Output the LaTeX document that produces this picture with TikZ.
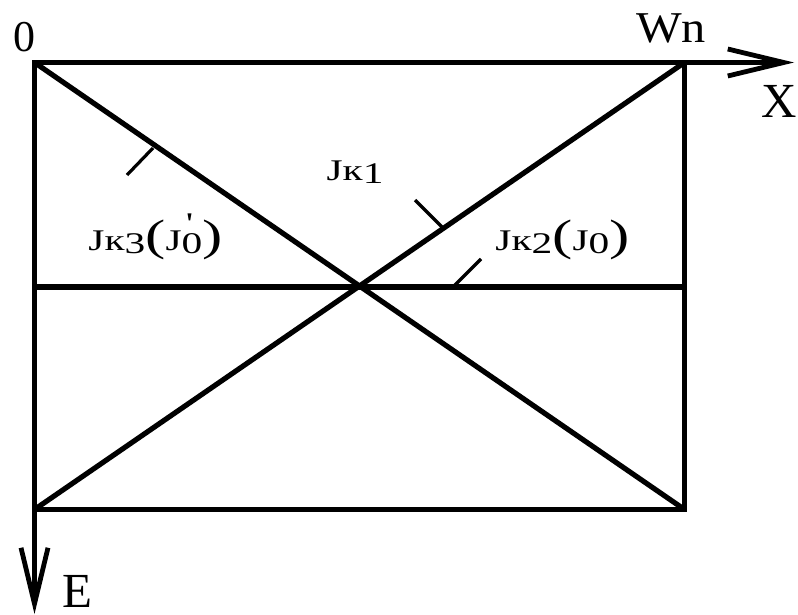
\documentclass[tikz,border=0pt]{standalone}
\usepackage{fontspec}
\setmainfont{Liberation Serif}
\usepackage{graphicx}
\usetikzlibrary{arrows.meta}
\newcommand\lowd[1]{\raisebox{-3pt}{#1}}
\newcommand\bigpar[1]{{\fontsize{44}{44}\selectfont #1}}
\newcommand\stretchx[1]{\scalebox{1.38}[1]{#1}}
\begin{document}
\begin{tikzpicture}[x=1pt,y=-1pt,
  frame/.style={line width=5.2pt, line join=miter},
  axisarrow/.style={line width=5.2pt, -{Straight Barb[length=56pt,width=27pt,line width=4.8pt]}},
  tickline/.style={line width=3.2pt},
  biglab/.style={font=\fontsize{44}{44}\selectfont, inner sep=0pt, anchor=base},
  axlab/.style={font=\fontsize{49}{49}\selectfont, inner sep=0pt, anchor=base},
  lab/.style={font=\fontsize{30}{30}\selectfont, inner sep=0pt, anchor=base}]
\useasboundingbox (0,0) rectangle (798,615);
% corners
\coordinate (TL) at (34.5,62.5);
\coordinate (TR) at (684.5,62.5);
\coordinate (BR) at (684.5,509.5);
\coordinate (BL) at (34.5,509.5);
\coordinate (ML) at (34.5,287);
\coordinate (MR) at (684.5,287);
\coordinate (Xend) at (794,62.5);
\coordinate (Eend) at (34.5,614);
% frame
\draw[frame] (TL) -- (TR) -- (BR) -- (BL) -- cycle;
\draw[frame] (ML) -- (MR);
\draw[frame] (TL) -- (BR);
\draw[frame] (BL) -- (TR);
% axes
\draw[axisarrow] (TR) -- (Xend);
\draw[axisarrow] (BL) -- (Eend);
% ticks
\coordinate (t3a) at (153,148);
\coordinate (t3b) at (127,175);
\coordinate (t1a) at (442,227);
\coordinate (t1b) at (415,200);
\coordinate (t2a) at (453,287);
\coordinate (t2b) at (481,259);
\draw[tickline] (t3a) -- (t3b);
\draw[tickline] (t1a) -- (t1b);
\draw[tickline] (t2a) -- (t2b);
% labels
\node[biglab] (zero) at (24,52) {0};
\node[biglab] (wn) at (671,43) {\scalebox{1.1}[1]{Wn}};
\node[axlab] (xl) at (779.5,118) {X};
\node[axlab] (el) at (77.5,607) {E};
\node[lab] (k1) at (355,180) {\stretchx{Jк\lowd{1}}};
\node[lab] (k3) at (155.5,250) {\stretchx{Jк\lowd{3}\bigpar{(}J\rlap{\hspace{3pt}\raisebox{17pt}{\textquotesingle}}\lowd{0}\bigpar{)}}};
\node[lab] (k2) at (562.5,250) {\stretchx{Jк\lowd{2}\bigpar{(}J\lowd{0}\bigpar{)}}};
\end{tikzpicture}
\end{document}
